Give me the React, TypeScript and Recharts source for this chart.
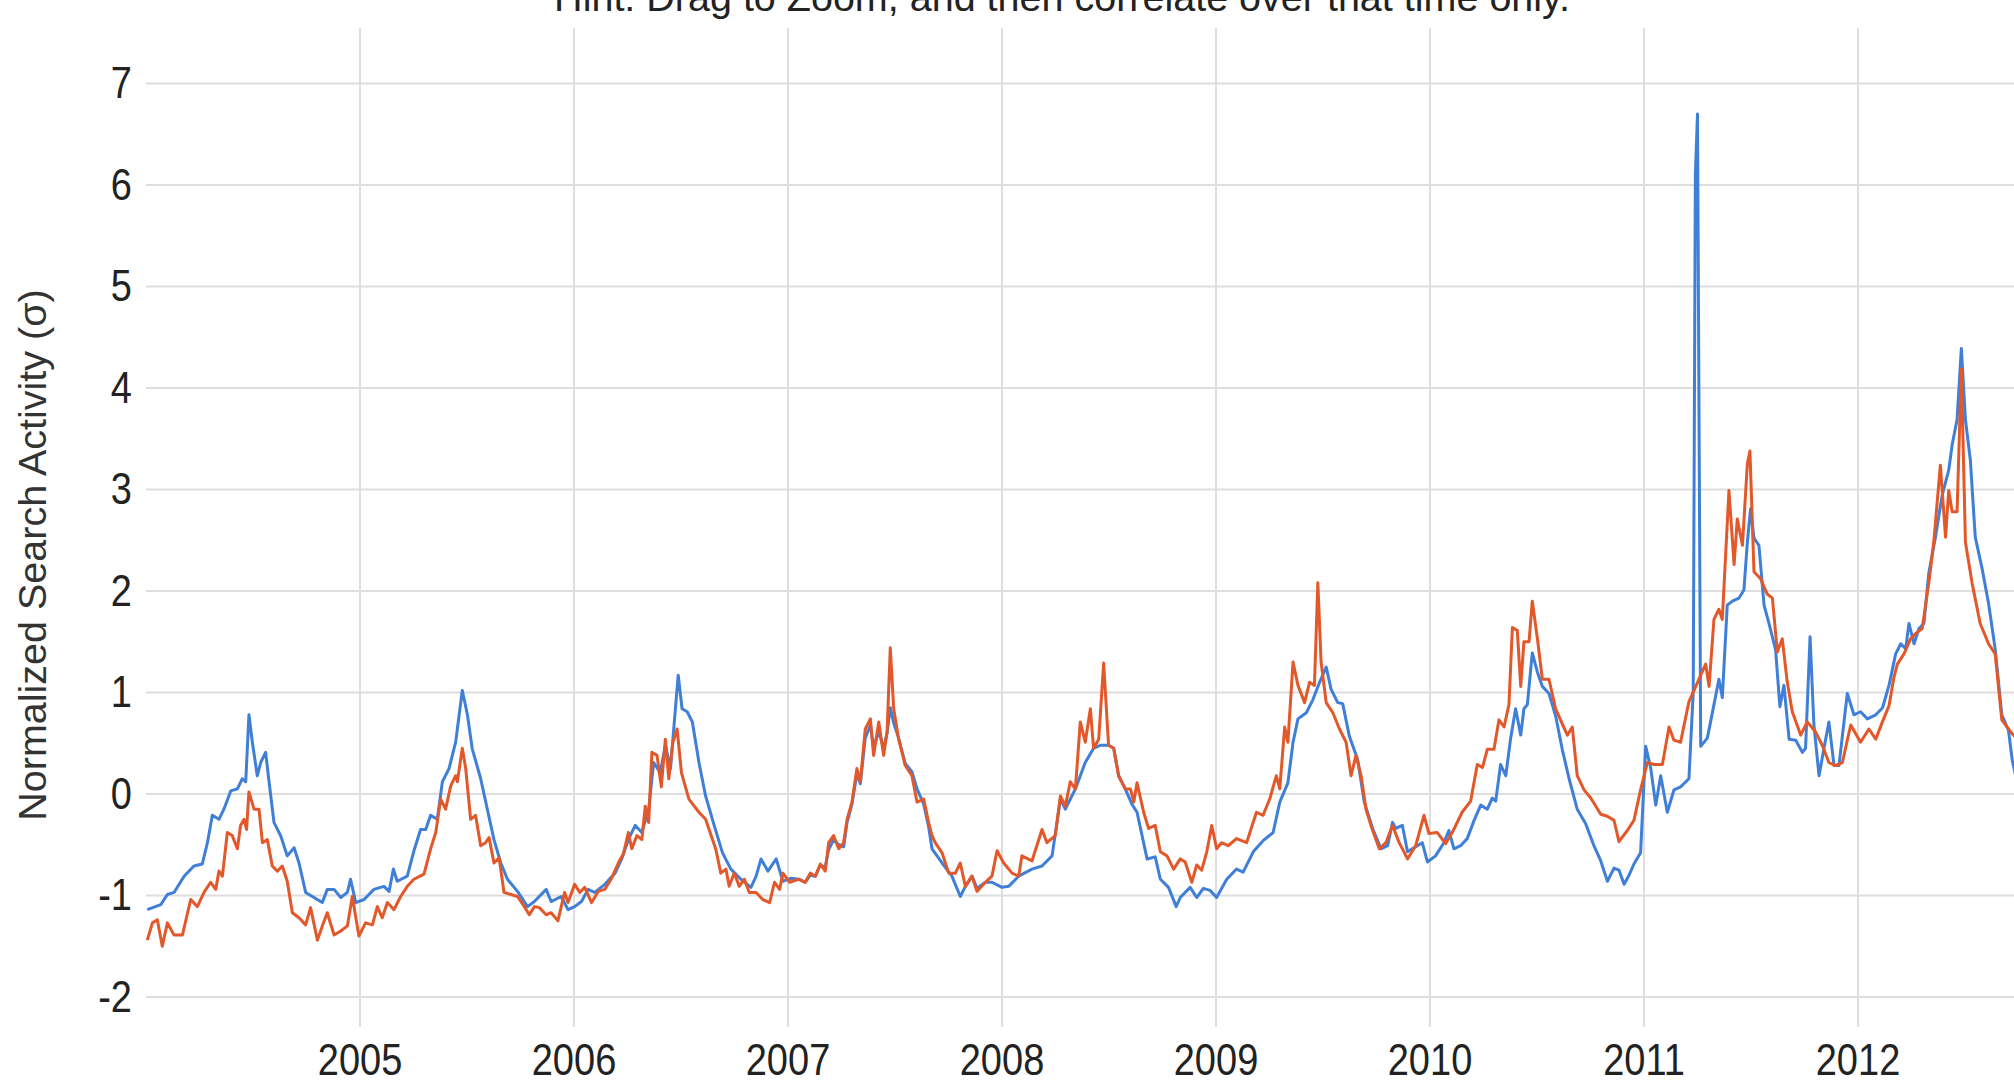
import React from 'react'
import { LineChart, Line, XAxis, YAxis, CartesianGrid } from 'recharts'

type Point = [number, number]

// [decimal year, normalized search activity in sigma]
const seriesBlue: Point[] = [
  [2004.006, -1.14], [2004.069, -1.09], [2004.1, -0.99], [2004.131, -0.97], [2004.178, -0.81],
  [2004.224, -0.71], [2004.263, -0.69], [2004.287, -0.48], [2004.31, -0.21], [2004.341, -0.25],
  [2004.364, -0.15], [2004.396, 0.03], [2004.427, 0.05], [2004.45, 0.15], [2004.466, 0.12],
  [2004.481, 0.78], [2004.497, 0.51], [2004.52, 0.18], [2004.536, 0.31], [2004.559, 0.41],
  [2004.575, 0.12], [2004.598, -0.28], [2004.629, -0.41], [2004.66, -0.61], [2004.692, -0.53],
  [2004.715, -0.68], [2004.746, -0.97], [2004.785, -1.02], [2004.824, -1.07], [2004.847, -0.94],
  [2004.879, -0.94], [2004.91, -1.02], [2004.941, -0.97], [2004.956, -0.84], [2004.98, -1.07],
  [2005.019, -1.04], [2005.065, -0.94], [2005.112, -0.91], [2005.136, -0.96], [2005.156, -0.74],
  [2005.174, -0.86], [2005.221, -0.81], [2005.252, -0.56], [2005.283, -0.35], [2005.307, -0.35],
  [2005.33, -0.21], [2005.361, -0.25], [2005.385, 0.12], [2005.416, 0.25], [2005.447, 0.51],
  [2005.478, 1.02], [2005.502, 0.78], [2005.524, 0.45], [2005.564, 0.15], [2005.595, -0.15],
  [2005.626, -0.45], [2005.658, -0.68], [2005.689, -0.84], [2005.736, -0.96], [2005.783, -1.11],
  [2005.815, -1.06], [2005.87, -0.94], [2005.893, -1.06], [2005.94, -1.01], [2005.972, -1.14],
  [2006.003, -1.11], [2006.035, -1.06], [2006.066, -0.94], [2006.097, -0.97], [2006.144, -0.89],
  [2006.192, -0.78], [2006.223, -0.64], [2006.254, -0.45], [2006.286, -0.31], [2006.317, -0.38],
  [2006.349, -0.15], [2006.372, 0.31], [2006.403, 0.21], [2006.427, 0.48], [2006.451, 0.25],
  [2006.466, 0.64], [2006.487, 1.17], [2006.505, 0.84], [2006.529, 0.81], [2006.553, 0.71],
  [2006.584, 0.31], [2006.615, -0.02], [2006.655, -0.31], [2006.694, -0.58], [2006.733, -0.74],
  [2006.78, -0.84], [2006.827, -0.92], [2006.851, -0.81], [2006.874, -0.64], [2006.906, -0.76],
  [2006.945, -0.64], [2006.976, -0.86], [2007.016, -0.83], [2007.05, -0.84], [2007.081, -0.87],
  [2007.104, -0.8], [2007.128, -0.81], [2007.151, -0.7], [2007.174, -0.72], [2007.19, -0.55],
  [2007.213, -0.45], [2007.237, -0.5], [2007.26, -0.52], [2007.276, -0.28], [2007.299, -0.1],
  [2007.322, 0.2], [2007.338, 0.1], [2007.361, 0.55], [2007.385, 0.68], [2007.4, 0.45],
  [2007.424, 0.62], [2007.447, 0.45], [2007.463, 0.6], [2007.478, 0.85], [2007.494, 0.7],
  [2007.517, 0.55], [2007.548, 0.3], [2007.579, 0.22], [2007.603, 0.05], [2007.634, -0.1],
  [2007.657, -0.32], [2007.673, -0.54], [2007.72, -0.68], [2007.766, -0.81], [2007.805, -1.01],
  [2007.829, -0.91], [2007.86, -0.81], [2007.883, -0.93], [2007.922, -0.87], [2007.953, -0.87],
  [2008.0, -0.92], [2008.031, -0.91], [2008.078, -0.81], [2008.14, -0.74], [2008.187, -0.71],
  [2008.234, -0.61], [2008.273, -0.05], [2008.296, -0.15], [2008.343, 0.05], [2008.389, 0.31],
  [2008.428, 0.45], [2008.46, 0.48], [2008.498, 0.48], [2008.522, 0.45], [2008.545, 0.18],
  [2008.576, 0.05], [2008.607, -0.1], [2008.631, -0.18], [2008.678, -0.64], [2008.716, -0.62],
  [2008.74, -0.84], [2008.778, -0.92], [2008.814, -1.11], [2008.833, -1.02], [2008.879, -0.92],
  [2008.91, -1.02], [2008.941, -0.93], [2008.972, -0.95], [2009.003, -1.02], [2009.05, -0.84],
  [2009.096, -0.74], [2009.127, -0.77], [2009.174, -0.57], [2009.22, -0.46], [2009.267, -0.38],
  [2009.298, -0.08], [2009.336, 0.11], [2009.36, 0.51], [2009.383, 0.74], [2009.422, 0.8],
  [2009.453, 0.93], [2009.484, 1.1], [2009.515, 1.25], [2009.538, 1.03], [2009.569, 0.9],
  [2009.592, 0.89], [2009.623, 0.57], [2009.662, 0.34], [2009.693, -0.08], [2009.732, -0.34],
  [2009.771, -0.54], [2009.802, -0.51], [2009.825, -0.28], [2009.84, -0.34], [2009.871, -0.31],
  [2009.895, -0.57], [2009.933, -0.52], [2009.964, -0.48], [2009.988, -0.67], [2010.026, -0.61],
  [2010.065, -0.48], [2010.088, -0.36], [2010.112, -0.54], [2010.143, -0.51], [2010.174, -0.44],
  [2010.206, -0.26], [2010.237, -0.11], [2010.268, -0.15], [2010.291, -0.04], [2010.307, -0.07],
  [2010.33, 0.29], [2010.354, 0.18], [2010.377, 0.55], [2010.4, 0.84], [2010.424, 0.58],
  [2010.439, 0.84], [2010.455, 0.88], [2010.478, 1.39], [2010.502, 1.2], [2010.525, 1.06],
  [2010.556, 0.99], [2010.587, 0.77], [2010.618, 0.44], [2010.65, 0.15], [2010.688, -0.15],
  [2010.727, -0.29], [2010.766, -0.51], [2010.798, -0.66], [2010.829, -0.86], [2010.86, -0.73],
  [2010.883, -0.75], [2010.907, -0.89], [2010.93, -0.8], [2010.953, -0.69], [2010.984, -0.58],
  [2011.008, 0.47], [2011.031, 0.26], [2011.055, -0.11], [2011.078, 0.18], [2011.109, -0.18],
  [2011.14, 0.04], [2011.171, 0.07], [2011.21, 0.15], [2011.23, 1.0], [2011.24, 6.1],
  [2011.25, 6.7], [2011.265, 0.47], [2011.296, 0.55], [2011.327, 0.88], [2011.35, 1.13],
  [2011.366, 0.95], [2011.389, 1.86], [2011.413, 1.9], [2011.444, 1.93], [2011.467, 2.01],
  [2011.483, 2.48], [2011.498, 2.81], [2011.514, 2.52], [2011.537, 2.45], [2011.561, 1.86],
  [2011.584, 1.68], [2011.615, 1.42], [2011.635, 0.86], [2011.654, 1.07], [2011.678, 0.54],
  [2011.709, 0.53], [2011.74, 0.41], [2011.755, 0.45], [2011.776, 1.55], [2011.794, 0.68],
  [2011.818, 0.18], [2011.841, 0.45], [2011.864, 0.71], [2011.888, 0.28], [2011.911, 0.28],
  [2011.95, 0.99], [2011.981, 0.78], [2012.012, 0.81], [2012.044, 0.74], [2012.083, 0.78],
  [2012.115, 0.85], [2012.146, 1.08], [2012.176, 1.38], [2012.2, 1.48], [2012.223, 1.43],
  [2012.238, 1.68], [2012.262, 1.48], [2012.285, 1.63], [2012.308, 1.68], [2012.331, 2.18],
  [2012.362, 2.53], [2012.393, 2.94], [2012.424, 3.19], [2012.44, 3.44], [2012.463, 3.69],
  [2012.483, 4.39], [2012.502, 3.69], [2012.525, 3.29], [2012.548, 2.53], [2012.579, 2.23],
  [2012.61, 1.88], [2012.641, 1.43], [2012.672, 0.78], [2012.703, 0.63], [2012.721, 0.33],
  [2012.74, 0.15],
]

const seriesOrange: Point[] = [
  [2004.006, -1.44], [2004.03, -1.27], [2004.053, -1.24], [2004.076, -1.5], [2004.1, -1.27],
  [2004.131, -1.39], [2004.17, -1.39], [2004.209, -1.04], [2004.24, -1.11], [2004.271, -0.97],
  [2004.302, -0.87], [2004.326, -0.94], [2004.341, -0.76], [2004.357, -0.81], [2004.38, -0.38],
  [2004.403, -0.41], [2004.427, -0.54], [2004.442, -0.31], [2004.458, -0.25], [2004.47, -0.35],
  [2004.481, 0.02], [2004.505, -0.15], [2004.528, -0.15], [2004.544, -0.48], [2004.567, -0.45],
  [2004.59, -0.71], [2004.614, -0.76], [2004.637, -0.71], [2004.66, -0.86], [2004.684, -1.17],
  [2004.715, -1.22], [2004.746, -1.29], [2004.769, -1.12], [2004.801, -1.44], [2004.824, -1.3],
  [2004.847, -1.17], [2004.879, -1.39], [2004.91, -1.35], [2004.941, -1.3], [2004.964, -1.01],
  [2004.995, -1.4], [2005.026, -1.27], [2005.058, -1.29], [2005.081, -1.11], [2005.104, -1.22],
  [2005.128, -1.07], [2005.159, -1.14], [2005.19, -1.01], [2005.221, -0.91], [2005.252, -0.84],
  [2005.299, -0.79], [2005.33, -0.54], [2005.354, -0.38], [2005.377, -0.05], [2005.4, -0.15],
  [2005.424, 0.08], [2005.447, 0.18], [2005.455, 0.12], [2005.478, 0.45], [2005.494, 0.25],
  [2005.517, -0.25], [2005.54, -0.21], [2005.564, -0.51], [2005.587, -0.48], [2005.603, -0.43],
  [2005.626, -0.68], [2005.65, -0.63], [2005.673, -0.97], [2005.705, -0.99], [2005.736, -1.01],
  [2005.768, -1.11], [2005.791, -1.19], [2005.815, -1.11], [2005.838, -1.12], [2005.87, -1.19],
  [2005.893, -1.17], [2005.925, -1.25], [2005.956, -0.97], [2005.972, -1.07], [2006.003, -0.89],
  [2006.027, -0.97], [2006.05, -0.92], [2006.082, -1.07], [2006.113, -0.96], [2006.144, -0.94],
  [2006.176, -0.83], [2006.207, -0.68], [2006.231, -0.59], [2006.254, -0.38], [2006.27, -0.54],
  [2006.294, -0.41], [2006.317, -0.45], [2006.333, -0.12], [2006.349, -0.28], [2006.364, 0.41],
  [2006.388, 0.38], [2006.408, 0.07], [2006.427, 0.54], [2006.443, 0.15], [2006.462, 0.51],
  [2006.482, 0.64], [2006.502, 0.21], [2006.537, -0.05], [2006.584, -0.18], [2006.615, -0.25],
  [2006.662, -0.54], [2006.686, -0.78], [2006.71, -0.74], [2006.725, -0.91], [2006.749, -0.78],
  [2006.772, -0.91], [2006.796, -0.84], [2006.819, -0.97], [2006.851, -0.97], [2006.882, -1.04],
  [2006.914, -1.07], [2006.937, -0.87], [2006.961, -0.94], [2006.976, -0.78], [2007.008, -0.87],
  [2007.05, -0.84], [2007.081, -0.87], [2007.104, -0.78], [2007.128, -0.81], [2007.151, -0.69],
  [2007.174, -0.76], [2007.19, -0.48], [2007.213, -0.41], [2007.237, -0.54], [2007.26, -0.48],
  [2007.276, -0.25], [2007.299, -0.08], [2007.322, 0.25], [2007.338, 0.12], [2007.361, 0.64],
  [2007.385, 0.74], [2007.4, 0.38], [2007.424, 0.71], [2007.447, 0.38], [2007.463, 0.61],
  [2007.478, 1.44], [2007.494, 0.84], [2007.517, 0.54], [2007.548, 0.28], [2007.579, 0.18],
  [2007.603, -0.08], [2007.634, -0.05], [2007.657, -0.28], [2007.673, -0.41], [2007.688, -0.48],
  [2007.72, -0.58], [2007.751, -0.78], [2007.782, -0.78], [2007.805, -0.68], [2007.829, -0.91],
  [2007.86, -0.81], [2007.883, -0.96], [2007.922, -0.87], [2007.953, -0.81], [2007.977, -0.56],
  [2008.008, -0.68], [2008.047, -0.78], [2008.078, -0.81], [2008.093, -0.61], [2008.14, -0.66],
  [2008.187, -0.35], [2008.21, -0.48], [2008.249, -0.41], [2008.273, -0.02], [2008.296, -0.12],
  [2008.319, 0.12], [2008.343, 0.05], [2008.366, 0.71], [2008.389, 0.51], [2008.413, 0.84],
  [2008.428, 0.45], [2008.452, 0.54], [2008.475, 1.29], [2008.498, 0.48], [2008.522, 0.45],
  [2008.545, 0.18], [2008.576, 0.05], [2008.6, 0.05], [2008.616, -0.08], [2008.631, 0.11],
  [2008.662, -0.18], [2008.685, -0.34], [2008.716, -0.31], [2008.74, -0.57], [2008.771, -0.61],
  [2008.802, -0.74], [2008.833, -0.64], [2008.856, -0.67], [2008.887, -0.87], [2008.91, -0.7],
  [2008.933, -0.75], [2008.957, -0.57], [2008.98, -0.31], [2009.003, -0.54], [2009.026, -0.48],
  [2009.057, -0.51], [2009.096, -0.44], [2009.143, -0.48], [2009.189, -0.18], [2009.22, -0.21],
  [2009.251, -0.05], [2009.282, 0.18], [2009.298, 0.05], [2009.321, 0.66], [2009.336, 0.51],
  [2009.36, 1.3], [2009.383, 1.07], [2009.414, 0.9], [2009.437, 1.1], [2009.46, 1.07],
  [2009.476, 2.08], [2009.491, 1.3], [2009.515, 0.9], [2009.546, 0.8], [2009.577, 0.64],
  [2009.608, 0.51], [2009.631, 0.18], [2009.654, 0.38], [2009.678, 0.18], [2009.701, -0.15],
  [2009.724, -0.31], [2009.763, -0.54], [2009.794, -0.48], [2009.825, -0.31], [2009.856, -0.48],
  [2009.895, -0.64], [2009.933, -0.51], [2009.972, -0.21], [2009.995, -0.39], [2010.034, -0.38],
  [2010.073, -0.49], [2010.104, -0.38], [2010.15, -0.18], [2010.19, -0.07], [2010.221, 0.29],
  [2010.245, 0.26], [2010.268, 0.44], [2010.299, 0.44], [2010.322, 0.73], [2010.346, 0.66],
  [2010.369, 0.88], [2010.385, 1.64], [2010.408, 1.61], [2010.424, 1.06], [2010.439, 1.5],
  [2010.463, 1.5], [2010.478, 1.9], [2010.502, 1.53], [2010.525, 1.13], [2010.556, 1.13],
  [2010.587, 0.84], [2010.618, 0.69], [2010.642, 0.58], [2010.665, 0.66], [2010.688, 0.18],
  [2010.72, 0.04], [2010.751, -0.04], [2010.798, -0.2], [2010.829, -0.22], [2010.86, -0.26],
  [2010.883, -0.47], [2010.922, -0.36], [2010.953, -0.26], [2010.984, 0.04], [2011.016, 0.31],
  [2011.047, 0.29], [2011.086, 0.29], [2011.117, 0.66], [2011.14, 0.53], [2011.171, 0.51],
  [2011.21, 0.91], [2011.234, 1.02], [2011.265, 1.17], [2011.288, 1.28], [2011.304, 1.06],
  [2011.327, 1.72], [2011.35, 1.82], [2011.366, 1.72], [2011.397, 2.99], [2011.421, 2.26],
  [2011.436, 2.71], [2011.46, 2.45], [2011.483, 3.25], [2011.495, 3.38], [2011.514, 2.19],
  [2011.545, 2.12], [2011.576, 1.97], [2011.6, 1.93], [2011.623, 1.4], [2011.646, 1.53],
  [2011.669, 1.11], [2011.693, 0.81], [2011.732, 0.58], [2011.763, 0.71], [2011.802, 0.61],
  [2011.833, 0.48], [2011.864, 0.31], [2011.895, 0.28], [2011.927, 0.31], [2011.966, 0.68],
  [2012.012, 0.51], [2012.051, 0.64], [2012.083, 0.54], [2012.114, 0.71], [2012.145, 0.87],
  [2012.168, 1.15], [2012.184, 1.28], [2012.215, 1.38], [2012.246, 1.53], [2012.269, 1.58],
  [2012.3, 1.63], [2012.331, 2.08], [2012.354, 2.48], [2012.385, 3.24], [2012.409, 2.53],
  [2012.424, 2.99], [2012.44, 2.78], [2012.463, 2.78], [2012.483, 4.19], [2012.502, 2.48],
  [2012.533, 2.08], [2012.571, 1.68], [2012.61, 1.48], [2012.641, 1.38], [2012.672, 0.73],
  [2012.718, 0.6], [2012.74, 0.55],
]

const yearTicks = [2005, 2006, 2007, 2008, 2009, 2010, 2011, 2012]
const sigmaTicks = [-2, -1, 0, 1, 2, 3, 4, 5, 6, 7]
const hintText = 'Hint: Drag to Zoom, and then correlate over that time only.'
const yTitle = 'Normalized Search Activity (σ)'

const W = 2014
const H = 1082
const X_DOMAIN: [number, number] = [2004, 2012.729]
const Y_DOMAIN: [number, number] = [-2.296, 7.547]
const FONT = '"Liberation Sans", Arial, Helvetica, sans-serif'
const FONT_SIZE = 38
// the screenshot's glyphs are a little taller than plain Arial
const STRETCH = 1.15

const toRows = (pts: Point[]) => pts.map(([t, v]) => ({ t, v }))

function YearTick({ x, y, payload }: any) {
  return (
    <text
      transform={`translate(${x},${y + 48}) scale(1,${STRETCH})`}
      textAnchor="middle"
      fontFamily={FONT}
      fontSize={FONT_SIZE}
      fill="#222"
    >
      {payload.value}
    </text>
  )
}

function SigmaTick({ x, y, payload }: any) {
  return (
    <text
      transform={`translate(${x},${y}) scale(1,${STRETCH})`}
      dy={13}
      textAnchor="end"
      fontFamily={FONT}
      fontSize={FONT_SIZE}
      fill="#222"
    >
      {payload.value}
    </text>
  )
}

// grid lines only at the labelled ticks, placed with the axis scales
const scaleOf = (axis: any, v: number, fallback: number) => {
  const s = axis && axis.scale
  const out = typeof s === 'function' ? s(v) : undefined
  return typeof out === 'number' && !isNaN(out) ? out : fallback
}

export default function App() {
  return (
    <div style={{ position: 'relative', width: W, height: H, overflow: 'hidden', background: '#fff' }}>
      <style>{'body{margin:0}'}</style>
      <LineChart width={W} height={H} margin={{ top: 28, right: 0, bottom: 0, left: 0 }}>
        <CartesianGrid
          stroke="#dedede"
          strokeWidth={2}
          verticalCoordinatesGenerator={({ xAxis, offset }: any) =>
            yearTicks.map((t) =>
              scaleOf(xAxis, t, offset.left + ((t - X_DOMAIN[0]) / (X_DOMAIN[1] - X_DOMAIN[0])) * offset.width)
            )
          }
          horizontalCoordinatesGenerator={({ yAxis, offset }: any) =>
            sigmaTicks.map((v) =>
              scaleOf(yAxis, v, offset.top + ((Y_DOMAIN[1] - v) / (Y_DOMAIN[1] - Y_DOMAIN[0])) * offset.height)
            )
          }
        />
        <XAxis
          dataKey="t"
          type="number"
          domain={X_DOMAIN}
          ticks={yearTicks}
          allowDataOverflow
          height={55}
          axisLine={false}
          tickLine={false}
          tickSize={0}
          tickMargin={0}
          tick={<YearTick />}
        />
        <YAxis
          type="number"
          domain={Y_DOMAIN}
          ticks={sigmaTicks}
          allowDataOverflow
          width={146}
          axisLine={false}
          tickLine={false}
          tickSize={0}
          tickMargin={14}
          tick={<SigmaTick />}
        />
        <Line
          data={toRows(seriesBlue)}
          dataKey="v"
          type="linear"
          stroke="#3f7fd8"
          strokeWidth={3}
          strokeLinejoin="round"
          dot={false}
          activeDot={false}
          isAnimationActive={false}
        />
        <Line
          data={toRows(seriesOrange)}
          dataKey="v"
          type="linear"
          stroke="#e2582a"
          strokeWidth={3}
          strokeLinejoin="round"
          dot={false}
          activeDot={false}
          isAnimationActive={false}
        />
      </LineChart>
      <svg width={W} height={H} style={{ position: 'absolute', left: 0, top: 0, pointerEvents: 'none' }}>
        <text x={1062} y={11} textAnchor="middle" fontFamily={FONT} fontSize={39.5} fill="#222">
          {hintText}
        </text>
        <text
          transform="translate(46,555) rotate(-90)"
          textAnchor="middle"
          fontFamily={FONT}
          fontSize={39.5}
          fill="#333"
        >
          {yTitle}
        </text>
      </svg>
    </div>
  )
}
